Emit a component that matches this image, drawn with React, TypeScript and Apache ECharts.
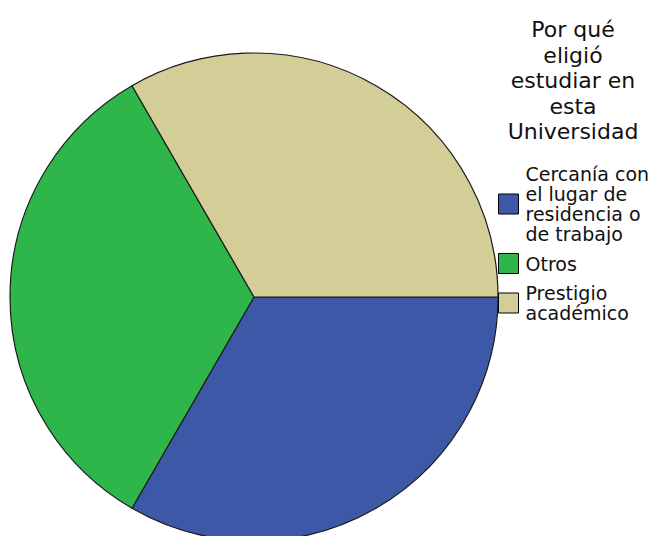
import React, { useEffect, useRef } from "react";
import * as echarts from "echarts";

const titleText = "Por qué\neligió\nestudiar en\nesta\nUniversidad";
const categories = [
  "Cercanía con\nel lugar de\nresidencia o\nde trabajo",
  "Otros",
  "Prestigio\nacadémico",
];
const values = [33.3, 33.3, 33.3];
const colors = ["#3e58a8", "#2eb64b", "#d3ce98"];

export default function App() {
  const ref = useRef<HTMLDivElement>(null);
  useEffect(() => {
    if (!ref.current) return;
    const chart = echarts.init(ref.current, null, { renderer: "svg" });
    chart.setOption({
      animation: false,
      backgroundColor: "#ffffff",
      graphic: [
        {
          type: "text",
          x: 573,
          y: 17,
          silent: true,
          style: {
            text: titleText,
            font: "22px 'DejaVu Sans'",
            lineHeight: 25.5,
            fill: "#111",
            align: "center",
            verticalAlign: "top",
          },
        },
      ],
      legend: {
        orient: "vertical",
        left: 498,
        top: 164,
        padding: 0,
        itemWidth: 20,
        itemHeight: 20,
        itemGap: 9,
        icon: "rect",
        selectedMode: false,
        itemStyle: { borderColor: "#000", borderWidth: 1 },
        textStyle: {
          fontFamily: "DejaVu Sans",
          fontSize: 19,
          lineHeight: 20,
          color: "#111",
          padding: [0, 0, 0, 2],
        },
        data: categories,
      },
      series: [
        {
          type: "pie",
          center: [254, 297],
          radius: 244,
          startAngle: 0,
          clockwise: true,
          silent: true,
          label: { show: false },
          labelLine: { show: false },
          emphasis: { disabled: true },
          itemStyle: { borderColor: "#1a1a1a", borderWidth: 1.2 },
          data: categories.map((name, i) => ({
            name,
            value: values[i],
            itemStyle: { color: colors[i] },
          })),
        },
      ],
    });
    return () => chart.dispose();
  }, []);
  return (
    <div
      ref={ref}
      style={{ position: "fixed", left: 0, top: 0, width: 655, height: 536 }}
    />
  );
}
